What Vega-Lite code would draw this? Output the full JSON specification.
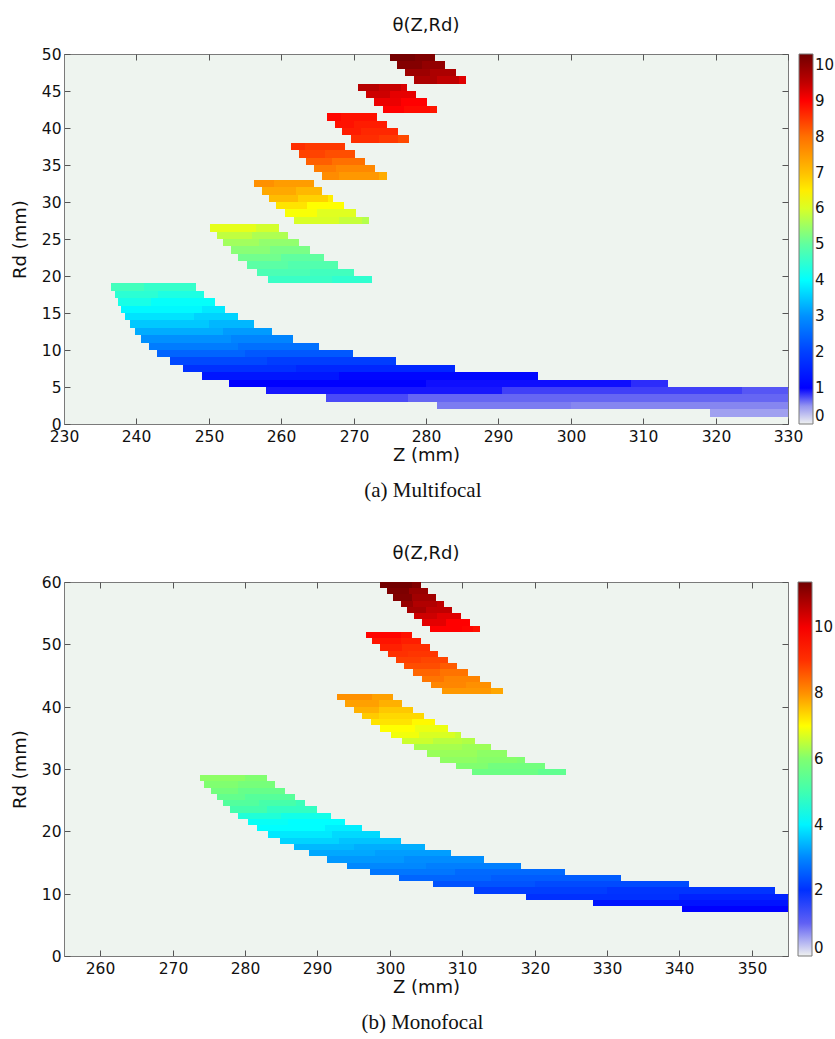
{
  "$schema": "https://vega.github.io/schema/vega-lite/v6.json",
  "padding": {"left": 10, "top": 16, "right": 0, "bottom": 0},
  "background": "white",
  "config": {
    "font": "DejaVu Sans",
    "view": {"fill": "#eef4ef", "stroke": "#7a7a7a", "strokeWidth": 1},
    "axis": {"grid": false, "domainColor": "#7a7a7a", "tickColor": "#555555", "labelColor": "#111111", "labelFont": "DejaVu Sans", "labelFontSize": 15.5, "titleFont": "DejaVu Sans", "titleFontSize": 18, "titleFontWeight": "normal", "titleColor": "#111111", "labelFlush": false, "labelOverlap": false, "tickSize": -6, "labelPadding": 9},
    "axisX": {"titlePadding": 2, "labelPadding": 11},
    "axisY": {"titlePadding": 12},
    "title": {"font": "DejaVu Sans", "fontSize": 18, "fontWeight": "normal", "color": "#111111"},
    "legend": {"gradientThickness": 14, "labelFontSize": 15, "labelFont": "DejaVu Sans", "labelColor": "#111111", "labelBaseline": "middle", "gradientStrokeColor": "#7a7a7a", "gradientStrokeWidth": 1, "labelOffset": 2, "labelOverlap": false, "padding": 0}
  },
  "datasets": {
    "a": [
      {"z0":275.0,"z1":278.5,"r0":49,"r1":50,"t":10.25},{"z0":278.5,"z1":281.3,"r0":49,"r1":50,"t":10.15},
      {"z0":276.0,"z1":279.5,"r0":48,"r1":49,"t":10.1},{"z0":279.5,"z1":282.6,"r0":48,"r1":49,"t":9.95},
      {"z0":277.1,"z1":280.5,"r0":47,"r1":48,"t":9.85},{"z0":280.5,"z1":284.1,"r0":47,"r1":48,"t":9.7},
      {"z0":278.4,"z1":281.5,"r0":46,"r1":47,"t":9.7},{"z0":281.5,"z1":284.5,"r0":46,"r1":47,"t":9.5},{"z0":284.5,"z1":285.5,"r0":46,"r1":47,"t":9.25},
      {"z0":270.6,"z1":273.5,"r0":45,"r1":46,"t":9.6},{"z0":273.5,"z1":276.5,"r0":45,"r1":46,"t":9.45},{"z0":276.5,"z1":277.4,"r0":45,"r1":46,"t":9.3},
      {"z0":271.7,"z1":275.0,"r0":44,"r1":45,"t":9.4},{"z0":275.0,"z1":278.6,"r0":44,"r1":45,"t":9.2},
      {"z0":272.8,"z1":276.5,"r0":43,"r1":44,"t":9.15},{"z0":276.5,"z1":280.1,"r0":43,"r1":44,"t":9.0},
      {"z0":274.0,"z1":277.0,"r0":42,"r1":43,"t":9.0},{"z0":277.0,"z1":280.5,"r0":42,"r1":43,"t":8.9},{"z0":280.5,"z1":281.5,"r0":42,"r1":43,"t":8.8},
      {"z0":266.3,"z1":268.3,"r0":41,"r1":42,"t":8.95},{"z0":268.3,"z1":273.3,"r0":41,"r1":42,"t":8.85},
      {"z0":267.4,"z1":270.0,"r0":40,"r1":41,"t":8.85},{"z0":270.0,"z1":274.6,"r0":40,"r1":41,"t":8.75},
      {"z0":268.4,"z1":271.0,"r0":39,"r1":40,"t":8.75},{"z0":271.0,"z1":276.1,"r0":39,"r1":40,"t":8.65},
      {"z0":269.6,"z1":273.5,"r0":38,"r1":39,"t":8.6},{"z0":273.5,"z1":276.2,"r0":38,"r1":39,"t":8.5},{"z0":276.2,"z1":277.6,"r0":38,"r1":39,"t":8.35},
      {"z0":261.4,"z1":263.3,"r0":37,"r1":38,"t":8.6},{"z0":263.3,"z1":268.8,"r0":37,"r1":38,"t":8.5},
      {"z0":262.4,"z1":266.0,"r0":36,"r1":37,"t":8.4},{"z0":266.0,"z1":270.2,"r0":36,"r1":37,"t":8.3},
      {"z0":263.4,"z1":267.0,"r0":35,"r1":36,"t":8.15},{"z0":267.0,"z1":271.6,"r0":35,"r1":36,"t":8.0},
      {"z0":264.5,"z1":267.5,"r0":34,"r1":35,"t":7.85},{"z0":267.5,"z1":273.0,"r0":34,"r1":35,"t":7.7},
      {"z0":265.7,"z1":268.0,"r0":33,"r1":34,"t":7.65},{"z0":268.0,"z1":273.5,"r0":33,"r1":34,"t":7.5},{"z0":273.5,"z1":274.6,"r0":33,"r1":34,"t":7.25},
      {"z0":256.3,"z1":259.0,"r0":32,"r1":33,"t":7.6},{"z0":259.0,"z1":264.5,"r0":32,"r1":33,"t":7.45},
      {"z0":257.3,"z1":262.0,"r0":31,"r1":32,"t":7.3},{"z0":262.0,"z1":265.7,"r0":31,"r1":32,"t":7.1},
      {"z0":258.3,"z1":262.3,"r0":30,"r1":31,"t":7.05},{"z0":262.3,"z1":266.5,"r0":30,"r1":31,"t":6.8},{"z0":266.5,"z1":267.1,"r0":30,"r1":31,"t":6.5},
      {"z0":259.3,"z1":263.5,"r0":29,"r1":30,"t":6.6},{"z0":263.5,"z1":268.7,"r0":29,"r1":30,"t":6.3},
      {"z0":260.5,"z1":265.0,"r0":28,"r1":29,"t":6.25},{"z0":265.0,"z1":270.3,"r0":28,"r1":29,"t":6.05},
      {"z0":261.7,"z1":268.0,"r0":27,"r1":28,"t":6.0},{"z0":268.0,"z1":271.2,"r0":27,"r1":28,"t":5.85},{"z0":271.2,"z1":272.1,"r0":27,"r1":28,"t":5.7},
      {"z0":250.2,"z1":256.5,"r0":26,"r1":27,"t":6.1},{"z0":256.5,"z1":259.7,"r0":26,"r1":27,"t":5.95},
      {"z0":251.1,"z1":256.0,"r0":25,"r1":26,"t":5.8},{"z0":256.0,"z1":260.9,"r0":25,"r1":26,"t":5.65},
      {"z0":252.0,"z1":257.0,"r0":24,"r1":25,"t":5.55},{"z0":257.0,"z1":262.4,"r0":24,"r1":25,"t":5.42},
      {"z0":253.0,"z1":258.5,"r0":23,"r1":24,"t":5.35},{"z0":258.5,"z1":264.0,"r0":23,"r1":24,"t":5.22},
      {"z0":254.1,"z1":260.0,"r0":22,"r1":23,"t":5.15},{"z0":260.0,"z1":265.9,"r0":22,"r1":23,"t":5.0},
      {"z0":255.3,"z1":261.0,"r0":21,"r1":22,"t":4.95},{"z0":261.0,"z1":267.8,"r0":21,"r1":22,"t":4.85},
      {"z0":256.7,"z1":264.0,"r0":20,"r1":21,"t":4.78},{"z0":264.0,"z1":270.0,"r0":20,"r1":21,"t":4.68},
      {"z0":258.2,"z1":267.0,"r0":19,"r1":20,"t":4.6},{"z0":267.0,"z1":272.6,"r0":19,"r1":20,"t":4.5},
      {"z0":236.5,"z1":241.0,"r0":18,"r1":19,"t":4.7},{"z0":241.0,"z1":248.2,"r0":18,"r1":19,"t":4.55},
      {"z0":237.0,"z1":243.0,"r0":17,"r1":18,"t":4.45},{"z0":243.0,"z1":249.4,"r0":17,"r1":18,"t":4.3},
      {"z0":237.4,"z1":242.0,"r0":16,"r1":17,"t":4.25},{"z0":242.0,"z1":250.8,"r0":16,"r1":17,"t":4.05},
      {"z0":237.9,"z1":249.0,"r0":15,"r1":16,"t":3.95},{"z0":249.0,"z1":252.3,"r0":15,"r1":16,"t":3.8},
      {"z0":238.4,"z1":248.0,"r0":14,"r1":15,"t":3.75},{"z0":248.0,"z1":254.0,"r0":14,"r1":15,"t":3.6},
      {"z0":239.1,"z1":250.0,"r0":13,"r1":14,"t":3.5},{"z0":250.0,"z1":256.2,"r0":13,"r1":14,"t":3.35},
      {"z0":239.8,"z1":252.0,"r0":12,"r1":13,"t":3.25},{"z0":252.0,"z1":258.7,"r0":12,"r1":13,"t":3.1},
      {"z0":240.6,"z1":253.0,"r0":11,"r1":12,"t":3.0},{"z0":253.0,"z1":261.6,"r0":11,"r1":12,"t":2.85},
      {"z0":241.7,"z1":254.0,"r0":10,"r1":11,"t":2.75},{"z0":254.0,"z1":265.2,"r0":10,"r1":11,"t":2.6},
      {"z0":242.9,"z1":255.0,"r0":9,"r1":10,"t":2.45},{"z0":255.0,"z1":269.9,"r0":9,"r1":10,"t":2.3},
      {"z0":244.6,"z1":258.0,"r0":8,"r1":9,"t":2.1},{"z0":258.0,"z1":275.9,"r0":8,"r1":9,"t":1.95},
      {"z0":246.5,"z1":262.0,"r0":7,"r1":8,"t":1.75},{"z0":262.0,"z1":284.0,"r0":7,"r1":8,"t":1.6},
      {"z0":249.1,"z1":268.0,"r0":6,"r1":7,"t":1.35},{"z0":268.0,"z1":295.5,"r0":6,"r1":7,"t":1.1},
      {"z0":252.8,"z1":280.0,"r0":5,"r1":6,"t":1.0},{"z0":280.0,"z1":308.3,"r0":5,"r1":6,"t":0.97},{"z0":308.3,"z1":313.4,"r0":5,"r1":6,"t":0.9},
      {"z0":257.9,"z1":290.5,"r0":4,"r1":5,"t":0.95},{"z0":290.5,"z1":323.6,"r0":4,"r1":5,"t":0.85},{"z0":323.6,"z1":330.0,"r0":4,"r1":5,"t":0.78},
      {"z0":266.2,"z1":277.5,"r0":3,"r1":4,"t":0.82},{"z0":277.5,"z1":330.0,"r0":3,"r1":4,"t":0.72},
      {"z0":281.5,"z1":300.0,"r0":2,"r1":3,"t":0.62},{"z0":300.0,"z1":330.0,"r0":2,"r1":3,"t":0.57},
      {"z0":319.2,"z1":330.0,"r0":1,"r1":2,"t":0.45}
    ],
    "b": [
      {"z0":298.7,"z1":303.0,"r0":59,"r1":60,"t":11.35},{"z0":303.0,"z1":304.3,"r0":59,"r1":60,"t":11.2},
      {"z0":299.6,"z1":302.6,"r0":58,"r1":59,"t":11.25},{"z0":302.6,"z1":305.3,"r0":58,"r1":59,"t":11.0},
      {"z0":300.5,"z1":303.0,"r0":57,"r1":58,"t":11.2},{"z0":303.0,"z1":306.4,"r0":57,"r1":58,"t":10.9},
      {"z0":301.5,"z1":303.2,"r0":56,"r1":57,"t":11.0},{"z0":303.2,"z1":306.5,"r0":56,"r1":57,"t":10.75},{"z0":306.5,"z1":307.5,"r0":56,"r1":57,"t":10.6},
      {"z0":302.4,"z1":305.0,"r0":55,"r1":56,"t":10.85},{"z0":305.0,"z1":308.6,"r0":55,"r1":56,"t":10.6},
      {"z0":303.4,"z1":306.5,"r0":54,"r1":55,"t":10.45},{"z0":306.5,"z1":309.8,"r0":54,"r1":55,"t":10.25},
      {"z0":304.5,"z1":307.7,"r0":53,"r1":54,"t":10.2},{"z0":307.7,"z1":311.1,"r0":53,"r1":54,"t":9.9},
      {"z0":305.6,"z1":310.0,"r0":52,"r1":53,"t":9.9},{"z0":310.0,"z1":311.5,"r0":52,"r1":53,"t":9.8},{"z0":311.5,"z1":312.4,"r0":52,"r1":53,"t":9.6},
      {"z0":296.7,"z1":301.5,"r0":51,"r1":52,"t":9.85},{"z0":301.5,"z1":303.0,"r0":51,"r1":52,"t":9.6},
      {"z0":297.6,"z1":301.5,"r0":50,"r1":51,"t":9.55},{"z0":301.5,"z1":304.3,"r0":50,"r1":51,"t":9.35},
      {"z0":298.6,"z1":301.7,"r0":49,"r1":50,"t":9.3},{"z0":301.7,"z1":305.5,"r0":49,"r1":50,"t":9.05},
      {"z0":299.7,"z1":302.5,"r0":48,"r1":49,"t":9.0},{"z0":302.5,"z1":306.7,"r0":48,"r1":49,"t":8.95},
      {"z0":300.8,"z1":304.3,"r0":47,"r1":48,"t":8.85},{"z0":304.3,"z1":308.0,"r0":47,"r1":48,"t":8.78},
      {"z0":302.0,"z1":307.0,"r0":46,"r1":47,"t":8.7},{"z0":307.0,"z1":309.3,"r0":46,"r1":47,"t":8.55},
      {"z0":303.2,"z1":307.0,"r0":45,"r1":46,"t":8.45},{"z0":307.0,"z1":310.8,"r0":45,"r1":46,"t":8.3},
      {"z0":304.4,"z1":307.5,"r0":44,"r1":45,"t":8.28},{"z0":307.5,"z1":312.4,"r0":44,"r1":45,"t":8.12},
      {"z0":305.7,"z1":310.5,"r0":43,"r1":44,"t":8.1},{"z0":310.5,"z1":314.0,"r0":43,"r1":44,"t":8.0},
      {"z0":307.2,"z1":314.0,"r0":42,"r1":43,"t":7.93},{"z0":314.0,"z1":315.7,"r0":42,"r1":43,"t":7.8},
      {"z0":292.7,"z1":297.5,"r0":41,"r1":42,"t":8.0},{"z0":297.5,"z1":300.4,"r0":41,"r1":42,"t":7.86},
      {"z0":293.8,"z1":298.5,"r0":40,"r1":41,"t":7.86},{"z0":298.5,"z1":301.7,"r0":40,"r1":41,"t":7.71},
      {"z0":295.0,"z1":298.5,"r0":39,"r1":40,"t":7.7},{"z0":298.5,"z1":303.2,"r0":39,"r1":40,"t":7.5},
      {"z0":296.2,"z1":298.5,"r0":38,"r1":39,"t":7.48},{"z0":298.5,"z1":304.7,"r0":38,"r1":39,"t":7.35},
      {"z0":297.4,"z1":303.0,"r0":37,"r1":38,"t":7.25},{"z0":303.0,"z1":306.3,"r0":37,"r1":38,"t":7.05},
      {"z0":298.7,"z1":303.5,"r0":36,"r1":37,"t":7.0},{"z0":303.5,"z1":308.0,"r0":36,"r1":37,"t":6.85},
      {"z0":300.1,"z1":304.0,"r0":35,"r1":36,"t":6.9},{"z0":304.0,"z1":309.0,"r0":35,"r1":36,"t":6.7},{"z0":309.0,"z1":309.9,"r0":35,"r1":36,"t":6.55},
      {"z0":301.7,"z1":306.0,"r0":34,"r1":35,"t":6.6},{"z0":306.0,"z1":310.0,"r0":34,"r1":35,"t":6.45},{"z0":310.0,"z1":311.7,"r0":34,"r1":35,"t":6.38},
      {"z0":303.3,"z1":310.0,"r0":33,"r1":34,"t":6.3},{"z0":310.0,"z1":314.0,"r0":33,"r1":34,"t":6.22},
      {"z0":305.1,"z1":312.0,"r0":32,"r1":33,"t":6.2},{"z0":312.0,"z1":316.2,"r0":32,"r1":33,"t":6.1},
      {"z0":306.9,"z1":312.0,"r0":31,"r1":32,"t":6.12},{"z0":312.0,"z1":317.5,"r0":31,"r1":32,"t":6.05},{"z0":317.5,"z1":318.7,"r0":31,"r1":32,"t":5.98},
      {"z0":309.2,"z1":313.5,"r0":30,"r1":31,"t":6.0},{"z0":313.5,"z1":321.5,"r0":30,"r1":31,"t":5.78},
      {"z0":311.3,"z1":320.5,"r0":29,"r1":30,"t":5.68},{"z0":320.5,"z1":324.4,"r0":29,"r1":30,"t":5.5},
      {"z0":273.8,"z1":280.0,"r0":28,"r1":29,"t":6.1},{"z0":280.0,"z1":283.1,"r0":28,"r1":29,"t":6.0},
      {"z0":274.4,"z1":279.0,"r0":27,"r1":28,"t":6.0},{"z0":279.0,"z1":284.2,"r0":27,"r1":28,"t":5.85},
      {"z0":275.3,"z1":279.0,"r0":26,"r1":27,"t":5.8},{"z0":279.0,"z1":285.5,"r0":26,"r1":27,"t":5.6},
      {"z0":276.1,"z1":280.0,"r0":25,"r1":26,"t":5.55},{"z0":280.0,"z1":286.9,"r0":25,"r1":26,"t":5.35},
      {"z0":276.9,"z1":282.0,"r0":24,"r1":25,"t":5.3},{"z0":282.0,"z1":287.0,"r0":24,"r1":25,"t":5.1},{"z0":287.0,"z1":288.3,"r0":24,"r1":25,"t":4.9},
      {"z0":277.9,"z1":283.0,"r0":23,"r1":24,"t":5.05},{"z0":283.0,"z1":290.0,"r0":23,"r1":24,"t":4.8},
      {"z0":279.1,"z1":285.0,"r0":22,"r1":23,"t":4.55},{"z0":285.0,"z1":291.9,"r0":22,"r1":23,"t":4.35},
      {"z0":280.4,"z1":286.0,"r0":21,"r1":22,"t":4.2},{"z0":286.0,"z1":293.8,"r0":21,"r1":22,"t":4.1},
      {"z0":281.7,"z1":291.0,"r0":20,"r1":21,"t":4.1},{"z0":291.0,"z1":296.2,"r0":20,"r1":21,"t":3.95},
      {"z0":283.2,"z1":292.0,"r0":19,"r1":20,"t":3.9},{"z0":292.0,"z1":298.6,"r0":19,"r1":20,"t":3.75},
      {"z0":284.8,"z1":293.0,"r0":18,"r1":19,"t":3.7},{"z0":293.0,"z1":301.6,"r0":18,"r1":19,"t":3.55},
      {"z0":286.7,"z1":295.0,"r0":17,"r1":18,"t":3.45},{"z0":295.0,"z1":304.8,"r0":17,"r1":18,"t":3.35},
      {"z0":288.8,"z1":298.0,"r0":16,"r1":17,"t":3.3},{"z0":298.0,"z1":308.5,"r0":16,"r1":17,"t":3.2},
      {"z0":291.3,"z1":302.0,"r0":15,"r1":16,"t":3.15},{"z0":302.0,"z1":313.0,"r0":15,"r1":16,"t":3.05},
      {"z0":294.1,"z1":305.0,"r0":14,"r1":15,"t":3.0},{"z0":305.0,"z1":318.1,"r0":14,"r1":15,"t":2.9},
      {"z0":297.3,"z1":309.0,"r0":13,"r1":14,"t":2.8},{"z0":309.0,"z1":324.2,"r0":13,"r1":14,"t":2.65},
      {"z0":301.3,"z1":314.0,"r0":12,"r1":13,"t":2.6},{"z0":314.0,"z1":331.9,"r0":12,"r1":13,"t":2.5},
      {"z0":305.9,"z1":320.0,"r0":11,"r1":12,"t":2.4},{"z0":320.0,"z1":341.3,"r0":11,"r1":12,"t":2.3},
      {"z0":311.6,"z1":330.0,"r0":10,"r1":11,"t":2.15},{"z0":330.0,"z1":353.2,"r0":10,"r1":11,"t":2.05},
      {"z0":318.8,"z1":340.0,"r0":9,"r1":10,"t":2.0},{"z0":340.0,"z1":355.0,"r0":9,"r1":10,"t":1.85},
      {"z0":328.0,"z1":355.0,"r0":8,"r1":9,"t":1.7},
      {"z0":340.3,"z1":355.0,"r0":7,"r1":8,"t":1.5}
    ]
  },
  "vconcat": [
    {
      "title": {"text": "(a)  Multifocal", "orient": "bottom", "font": "Liberation Serif", "fontSize": 21, "fontWeight": "normal", "offset": 15, "anchor": "middle"},
      "vconcat": [
        {
          "title": {"text": "θ(Z,Rd)", "offset": 12},
          "width": 724,
          "height": 370,
          "data": {"name": "a"},
          "layer": [
            {
              "mark": {"type": "rect"},
              "encoding": {
                "x": {"field": "z0", "type": "quantitative", "scale": {"domain": [230, 330], "nice": false, "zero": false, "round": true}, "axis": {"title": "Z (mm)", "values": [230, 240, 250, 260, 270, 280, 290, 300, 310, 320, 330]}},
                "x2": {"field": "z1"},
                "y": {"field": "r0", "type": "quantitative", "scale": {"domain": [0, 50], "nice": false, "zero": false, "round": true}, "axis": {"title": "Rd (mm)", "values": [0, 5, 10, 15, 20, 25, 30, 35, 40, 45, 50]}},
                "y2": {"field": "r1"},
                "color": {
                  "field": "t", "type": "quantitative",
                  "scale": {
                    "domain": [0, 0.1, 0.3, 0.45, 0.6, 0.75, 0.85, 0.93, 1.0, 1.5, 2.0, 3.0, 4.0, 5.0, 5.8, 6.3, 7.0, 8.0, 9.0, 9.5, 10.3],
                    "range": ["#f0f2f0", "#e0e0f2", "#c0c0f0", "#a0a0f0", "#8080f0", "#6060f4", "#4040f8", "#2020fc", "#0000ff", "#0020ff", "#0040ff", "#0090ff", "#00ffff", "#60ffa0", "#c0ff40", "#ffff00", "#ffc000", "#ff7000", "#ff0000", "#c00000", "#700000"],
                    "interpolate": "rgb"
                  },
                  "legend": {"title": null, "gradientLength": 370, "offset": -5, "values": [0, 1, 2, 3, 4, 5, 6, 7, 8, 9, 10]}
                }
              }
            },
            {
              "mark": {"type": "rect", "opacity": 0},
              "encoding": {
                "x": {"field": "z0", "type": "quantitative", "scale": {"domain": [230, 330], "nice": false, "zero": false, "round": true}, "axis": {"orient": "top", "labels": false, "title": null, "domain": false, "values": [230, 240, 250, 260, 270, 280, 290, 300, 310, 320, 330]}},
                "y": {"field": "r0", "type": "quantitative", "scale": {"domain": [0, 50], "nice": false, "zero": false, "round": true}, "axis": {"orient": "right", "labels": false, "title": null, "domain": false, "values": [0, 5, 10, 15, 20, 25, 30, 35, 40, 45, 50]}}
              }
            }
          ],
          "resolve": {"axis": {"x": "independent", "y": "independent"}}
        }
      ]
    },
    {
      "title": {"text": "(b)  Monofocal", "orient": "bottom", "font": "Liberation Serif", "fontSize": 21, "fontWeight": "normal", "offset": 15, "anchor": "middle"},
      "vconcat": [
        {
          "title": {"text": "θ(Z,Rd)", "offset": 12},
          "width": 724,
          "height": 374,
          "data": {"name": "b"},
          "layer": [
            {
              "mark": {"type": "rect"},
              "encoding": {
                "x": {"field": "z0", "type": "quantitative", "scale": {"domain": [255, 355], "nice": false, "zero": false, "round": true}, "axis": {"title": "Z (mm)", "values": [260, 270, 280, 290, 300, 310, 320, 330, 340, 350]}},
                "x2": {"field": "z1"},
                "y": {"field": "r0", "type": "quantitative", "scale": {"domain": [0, 60], "nice": false, "zero": false, "round": true}, "axis": {"title": "Rd (mm)", "values": [0, 10, 20, 30, 40, 50, 60]}},
                "y2": {"field": "r1"},
                "color": {
                  "field": "t", "type": "quantitative",
                  "scale": {
                    "domain": [0, 0.15, 0.4, 0.6, 0.8, 1.0, 1.15, 1.3, 1.5, 2.0, 3.0, 4.1, 5.0, 6.0, 7.0, 8.0, 9.0, 9.9, 10.6, 11.38],
                    "range": ["#f0f2f0", "#e0e0f2", "#c0c0f0", "#a0a0f0", "#8080f0", "#6060f4", "#4040f8", "#2020fc", "#0000ff", "#0030ff", "#0088ff", "#00ffff", "#40ffb0", "#80ff70", "#ffff00", "#ff9000", "#ff3000", "#ff0000", "#c00000", "#700000"],
                    "interpolate": "rgb"
                  },
                  "legend": {"title": null, "gradientLength": 374, "offset": 9, "values": [0, 2, 4, 6, 8, 10]}
                }
              }
            },
            {
              "mark": {"type": "rect", "opacity": 0},
              "encoding": {
                "x": {"field": "z0", "type": "quantitative", "scale": {"domain": [255, 355], "nice": false, "zero": false, "round": true}, "axis": {"orient": "top", "labels": false, "title": null, "domain": false, "values": [260, 270, 280, 290, 300, 310, 320, 330, 340, 350]}},
                "y": {"field": "r0", "type": "quantitative", "scale": {"domain": [0, 60], "nice": false, "zero": false, "round": true}, "axis": {"orient": "right", "labels": false, "title": null, "domain": false, "values": [0, 10, 20, 30, 40, 50, 60]}}
              }
            }
          ],
          "resolve": {"axis": {"x": "independent", "y": "independent"}}
        }
      ]
    }
  ],
  "spacing": 43,
  "resolve": {"scale": {"color": "independent"}, "legend": {"color": "independent"}}
}
